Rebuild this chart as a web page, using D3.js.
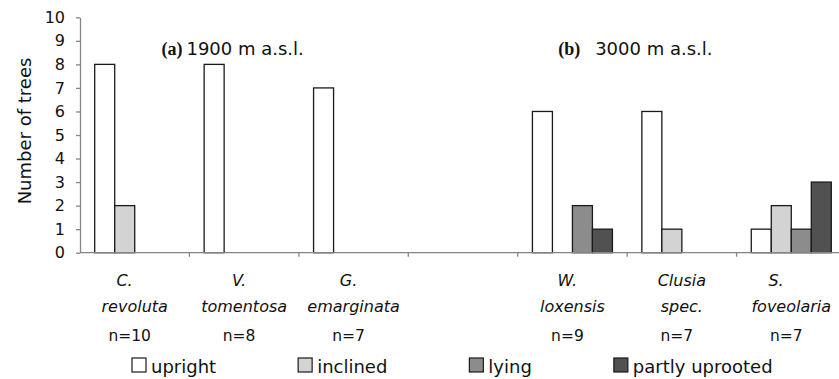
<!DOCTYPE html>
<html>
<head>
<meta charset="utf-8">
<script src="https://cdn.jsdelivr.net/npm/d3@7"></script>
<style>
  body { margin: 0; background: #fff; }
  svg { display: block; font-family: "DejaVu Sans", sans-serif; }
  .axis-line { stroke: #858585; stroke-width: 1.3; }
  .bar { stroke: #1a1a1a; stroke-width: 1.3; }
</style>
</head>
<body>
<div id="chart"></div>
<script>
// species groups, the empty slot is the gap between the two sites
const speciesLine1 = ["C.\u00a0\u00a0\u00a0\u00a0", "V.\u00a0\u00a0", "G.\u00a0\u00a0", "", "W.\u00a0\u00a0", "Clusia", "S.\u00a0\u00a0\u00a0\u00a0\u00a0\u00a0"];
const speciesLine2 = ["revoluta", "tomentosa", "emarginata", "", "loxensis", "spec.", "foveolaria"];
const sampleSizes = ["n=10", "n=8", "n=7", "", "n=9", "n=7", "n=7"];

const seriesNames = ["upright", "inclined", "lying", "partly uprooted"];
const upright = [8, 8, 7, 0, 6, 6, 1];
const inclined = [2, 0, 0, 0, 0, 1, 2];
const lying = [0, 0, 0, 0, 2, 0, 1];
const partlyUprooted = [0, 0, 0, 0, 1, 0, 3];

const yTicks = [0, 1, 2, 3, 4, 5, 6, 7, 8, 9, 10];
const siteTags = ["(a)", "(b)"];
const siteNames = ["1900 m a.s.l.", "3000 m a.s.l."];

const colors = ["#ffffff", "#d3d3d3", "#8c8c8c", "#515151"];
const seriesValues = [upright, inclined, lying, partlyUprooted];

const width = 839,
  height = 379;
const marginLeft = 80,
  plotRight = 846,
  yTop = 17.3,
  yBottom = 252.7;

const svg = d3
  .select("#chart")
  .append("svg")
  .attr("width", width)
  .attr("height", height);

const groups = d3.range(speciesLine2.length);

const x = d3.scaleBand().domain(groups).range([marginLeft, plotRight]);
const xInner = d3
  .scaleBand()
  .domain(d3.range(seriesNames.length))
  .range([0, x.bandwidth()])
  .paddingOuter(0.735);
const y = d3.scaleLinear().domain([0, 10]).range([yBottom, yTop]);

// bars
const bars = [];
groups.forEach((g) => {
  seriesValues.forEach((vals, s) => {
    if (vals[g] > 0) bars.push({ g, s, v: vals[g] });
  });
});

svg
  .append("g")
  .selectAll("rect")
  .data(bars)
  .join("rect")
  .attr("class", "bar")
  .attr("x", (d) => x(d.g) + xInner(d.s))
  .attr("y", (d) => y(d.v))
  .attr("width", xInner.bandwidth())
  .attr("height", (d) => y(0) - y(d.v))
  .attr("fill", (d) => colors[d.s]);

// y axis
const yAxis = svg
  .append("g")
  .attr("transform", `translate(${marginLeft},0)`)
  .call(
    d3.axisLeft(y).tickValues(yTicks).tickSize(4).tickPadding(11).tickSizeOuter(0)
  );
yAxis.select(".domain").attr("class", "axis-line");
yAxis.selectAll(".tick line").attr("class", "axis-line");
yAxis
  .selectAll(".tick text")
  .attr("font-family", "DejaVu Sans, sans-serif")
  .attr("font-size", 16)
  .attr("fill", "#111");

// x axis line with ticks at group boundaries
const xAxis = svg.append("g");
xAxis
  .append("line")
  .attr("class", "axis-line")
  .attr("x1", marginLeft)
  .attr("x2", plotRight)
  .attr("y1", y(0))
  .attr("y2", y(0));
xAxis
  .selectAll(".xtick")
  .data(groups.slice(1))
  .join("line")
  .attr("class", "axis-line")
  .attr("x1", (d) => x(d))
  .attr("x2", (d) => x(d))
  .attr("y1", y(0))
  .attr("y2", y(0) + 4);

// y label
svg
  .append("text")
  .attr("transform", `translate(31,${(yTop + yBottom) / 2 - 4}) rotate(-90)`)
  .attr("text-anchor", "middle")
  .attr("font-size", 18)
  .attr("fill", "#111")
  .text("Number of trees");

// category labels
const cat = svg
  .append("g")
  .attr("font-size", 16)
  .attr("font-style", "italic")
  .attr("fill", "#111")
  .attr("text-anchor", "middle");
cat
  .selectAll(".l1")
  .data(groups)
  .join("text")
  .attr("x", (d) => x(d) + x.bandwidth() / 2)
  .attr("y", 286)
  .text((d) => speciesLine1[d]);
cat
  .selectAll(".l2")
  .data(groups)
  .join("text")
  .attr("x", (d) => x(d) + x.bandwidth() / 2)
  .attr("y", 312)
  .text((d) => speciesLine2[d]);

svg
  .append("g")
  .attr("font-size", 15.5)
  .attr("fill", "#111")
  .attr("text-anchor", "middle")
  .selectAll("text")
  .data(groups)
  .join("text")
  .attr("x", (d) => x(d) + x.bandwidth() / 2 - 5)
  .attr("y", 341)
  .text((d) => sampleSizes[d]);

// site labels: (a) over the first site, (b) over the second
const siteX = [x(1) - 3, x(5) - 32];
const siteGap = [4, 15];
siteNames.forEach((name, i) => {
  const t = svg.append("g").attr("transform", `translate(${siteX[i]},55)`);
  t.append("text")
    .attr("text-anchor", "end")
    .attr("font-family", "Liberation Serif, serif")
    .attr("font-weight", "bold")
    .attr("font-size", 18)
    .attr("x", -siteGap[i])
    .attr("fill", "#111")
    .text(siteTags[i]);
  t.append("text")
    .attr("font-size", 18)
    .attr("fill", "#111")
    .text(name);
});

// legend
const legend = svg.append("g").attr("font-size", 18).attr("fill", "#111");
let lx = 132;
seriesNames.forEach((name, i) => {
  legend
    .append("rect")
    .attr("x", lx)
    .attr("y", 358)
    .attr("width", 14)
    .attr("height", 14)
    .attr("fill", colors[i])
    .attr("stroke", "#1a1a1a")
    .attr("stroke-width", 1.2);
  const txt = legend
    .append("text")
    .attr("x", lx + 19)
    .attr("y", 373)
    .text(name);
  lx += 19 + txt.node().getComputedTextLength() + 82;
});
</script>
</body>
</html>
